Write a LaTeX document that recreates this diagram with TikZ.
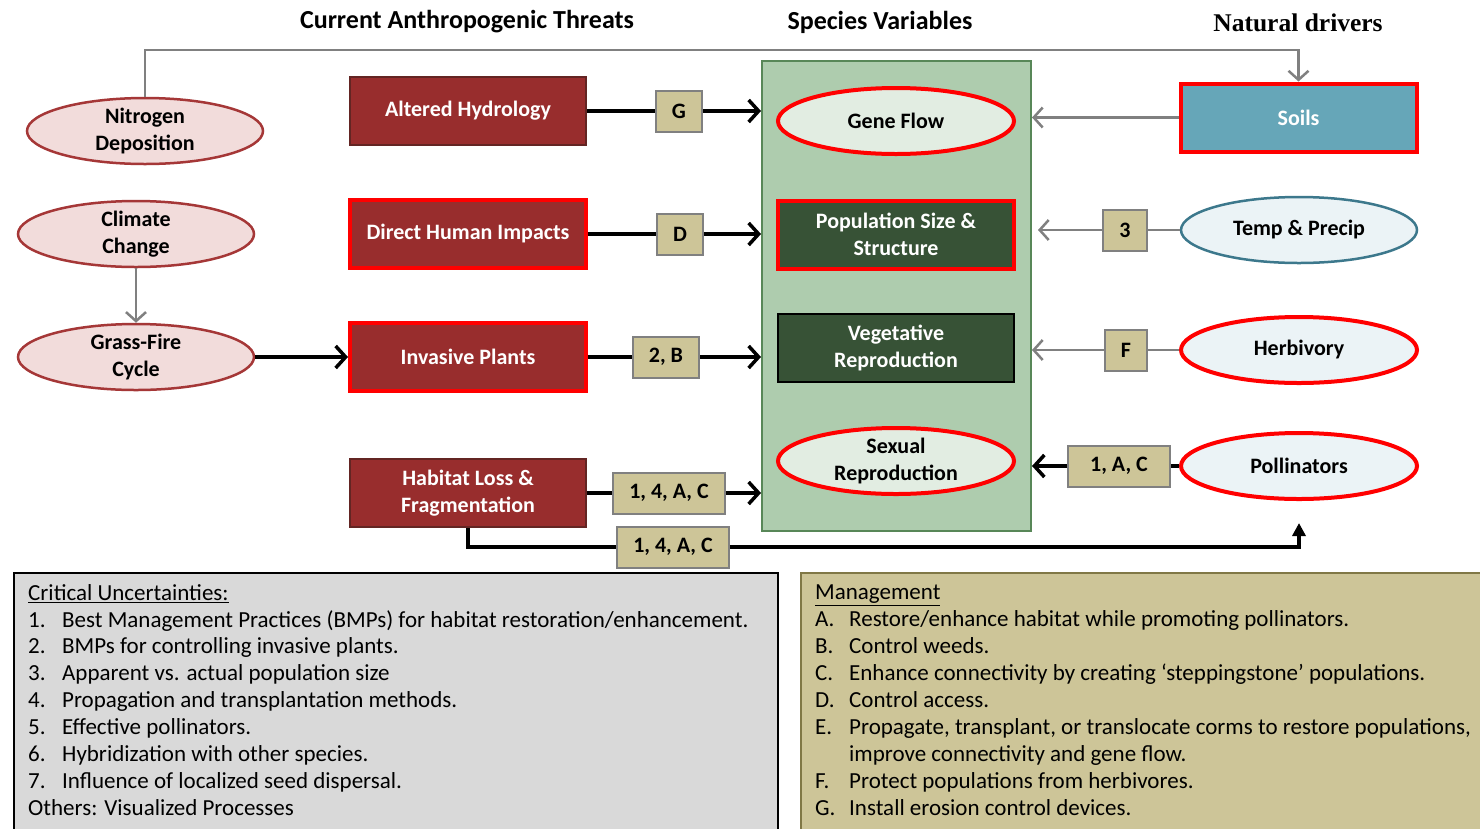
\documentclass[tikz,border=0pt]{standalone}
\usepackage{fontspec}
\setmainfont{Carlito}
\newfontfamily\driverfont{Liberation Serif}
\usetikzlibrary{shapes.geometric,arrows.meta}
\definecolor{pinkfill}{RGB}{242,220,219}
\definecolor{pinkline}{RGB}{165,55,55}
\definecolor{threatfill}{RGB}{152,45,45}
\definecolor{threatline}{RGB}{99,37,35}
\definecolor{tagfill}{RGB}{205,197,152}
\definecolor{specfill}{RGB}{174,204,174}
\definecolor{specline}{RGB}{88,135,88}
\definecolor{genefill}{RGB}{226,237,226}
\definecolor{darkgreen}{RGB}{55,82,54}
\definecolor{soilfill}{RGB}{102,166,184}
\definecolor{driverfill}{RGB}{235,243,246}
\definecolor{tealline}{RGB}{60,120,140}
\definecolor{critfill}{RGB}{217,217,217}
\definecolor{mgmtline}{RGB}{128,120,70}
\tikzset{
  nodefont/.style={font=\fontsize{22}{27}\selectfont\bfseries},
  title/.style={font=\fontsize{26}{30}\selectfont\bfseries},
  hot/.style={draw=red, line width=4pt},
  threat/.style={rectangle, fill=threatfill, draw=threatline, line width=2pt, text=white, nodefont,
    minimum width=236pt, minimum height=68pt, align=center},
  pinkoval/.style={ellipse, fill=pinkfill, draw=pinkline, line width=2.5pt, inner xsep=0pt, inner ysep=-3pt, nodefont,
    minimum width=236pt, minimum height=66pt, align=center},
  greenoval/.style={pinkoval, fill=genefill, hot},
  blueoval/.style={pinkoval, fill=driverfill},
  greenbox/.style={threat, fill=darkgreen, draw=black},
  soilbox/.style={threat, fill=soilfill, hot},
  specbox/.style={rectangle, fill=specfill, draw=specline, line width=2pt,
    minimum width=269pt, minimum height=470pt},
  tag/.style={rectangle, fill=tagfill, draw=gray, line width=2pt, nodefont,
    minimum width=40pt, minimum height=41pt, inner xsep=16pt},
  blk/.style={black, line width=3.5pt},
  blkarrow/.style={blk, -{Straight Barb[length=10pt,width=22pt]}},
  gry/.style={gray, line width=2.5pt},
  gryarrow/.style={gry, -{Straight Barb[length=9pt,width=20pt]}},
  listtext/.style={anchor=north west, align=left, inner sep=0pt, font=\fontsize{23}{26.9}\selectfont}
}
\newcommand{\itm}[1]{\makebox[34pt][l]{#1}}
\begin{document}
\begin{tikzpicture}[x=1pt, y=-1pt]
\clip (0,0) rectangle (1480,828);
\fill[white] (0,0) rectangle (1480,828);
\node[title] at (467,22) {Current Anthropogenic Threats};
\node[title] at (880,22) {Species Variables};
\node[title, font=\fontsize{25.5}{28}\selectfont\driverfont\bfseries] at (1298,23) {Natural drivers};

\node[specbox] (spec) at (896.5,296) {};

\node[pinkoval] (nitro) at (145,131) {Nitrogen\\Deposition};
\node[pinkoval] (climate) at (136,234) {Climate\\Change};
\node[pinkoval] (grass) at (136,357) {Grass-Fire\\Cycle};

\node[threat] (hydro) at (468,111) {Altered Hydrology};
\node[threat, hot] (human) at (468,234) {Direct Human Impacts};
\node[threat, hot] (invasive) at (468,357) {Invasive Plants};
\node[threat] (habitat) at (468,493) {Habitat Loss \&\\Fragmentation};

\node[greenoval] (gene) at (896,121) {Gene Flow};
\node[greenbox, hot] (popsize) at (896,234.5) {Population Size \&\\Structure};
\node[greenbox] (veget) at (896,348) {Vegetative\\Reproduction};
\node[greenoval] (sexual) at (896,461) {Sexual\\Reproduction};

\node[soilbox] (soils) at (1298.5,117.5) {Soils};
\node[blueoval, draw=tealline] (temp) at (1299,230) {Temp \& Precip};
\node[blueoval, hot] (herb) at (1299,350) {Herbivory};
\node[blueoval, hot] (poll) at (1299,466) {Pollinators};

\node[tag] (tg) at (679,111) {G};
\node[tag] (td) at (680,234) {D};
\node[tag] (t2b) at (666,357) {2, B};
\node[tag] (t14a) at (669,493) {1, 4, A, C};
\node[tag] (t14b) at (673,547) {1, 4, A, C};
\node[tag] (t3) at (1125,230) {3};
\node[tag] (tf) at (1126,350) {F};
\node[tag, minimum width=102pt] (t1ac) at (1119,466) {1, A, C};

\coordinate (topline) at (0,50);
\draw[gryarrow] (nitro.north) |- (topline -| soils.north) -- (soils.north);
\draw[gryarrow] (climate) -- (grass);
\draw[blkarrow] (grass) -- (invasive);

\draw[blk] (hydro) -- (tg);
\draw[blkarrow] (tg) -- (tg -| spec.west);
\draw[blk] (human) -- (td);
\draw[blkarrow] (td) -- (td -| spec.west);
\draw[blk] (invasive) -- (t2b);
\draw[blkarrow] (t2b) -- (t2b -| spec.west);
\draw[blk] (habitat) -- (t14a);
\draw[blkarrow] (t14a) -- (t14a -| spec.west);
\draw[blk] (habitat.south) |- (t14b);
\draw[blk, -{Triangle[length=13pt,width=13pt]}, shorten >=22pt] (t14b) -| (poll.south);

\draw[gryarrow] (soils) -- (soils -| spec.east);
\draw[gry] (temp) -- (t3);
\draw[gryarrow, shorten >=6pt] (t3) -- (t3 -| spec.east);
\draw[gry] (herb) -- (tf);
\draw[gryarrow] (tf) -- (tf -| spec.east);
\draw[blk] (poll) -- (t1ac);
\draw[blkarrow] (t1ac) -- (t1ac -| spec.east);

\draw[fill=critfill, line width=2.5pt] (14,573) rectangle (778,845);
\draw[fill=tagfill, draw=mgmtline, line width=2.5pt] (801,573) rectangle (1495,845);
\node[listtext] (crit) at (28,584) {\underline{Critical Uncertainties:}\\
\itm{1.}Best Management Practices (BMPs) for habitat restoration/enhancement.\\
\itm{2.}BMPs for controlling invasive plants.\\
\itm{3.}Apparent vs. actual population size\\
\itm{4.}Propagation and transplantation methods.\\
\itm{5.}Effective pollinators.\\
\itm{6.}Hybridization with other species.\\
\itm{7.}Influence of localized seed dispersal.\\
Others: Visualized Processes};
\node[listtext] (mgmt) at (815,585) {\underline{Management}\\
\itm{A.}Restore/enhance habitat while promoting pollinators.\\
\itm{B.}Control weeds.\\
\itm{C.}Enhance connectivity by creating ‘steppingstone’ populations.\\
\itm{D.}Control access.\\
\itm{E.}Propagate, transplant, or translocate corms to restore populations,\\
\itm{}improve connectivity and gene flow.\\
\itm{F.}Protect populations from herbivores.\\
\itm{G.}Install erosion control devices.};
\end{tikzpicture}
\end{document}
